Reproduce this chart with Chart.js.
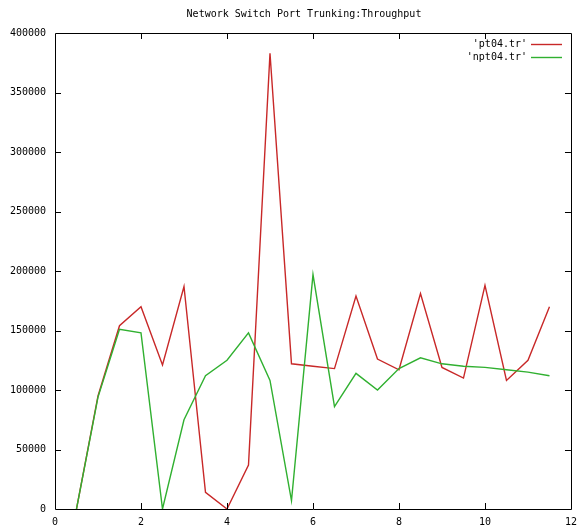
<!DOCTYPE html>
<html>
<head>
<meta charset="utf-8">
<script src="https://cdn.jsdelivr.net/npm/chart.js@4.4.1/dist/chart.umd.min.js"></script>
<style>
html,body{margin:0;padding:0;background:#fff;}
#wrap{width:584px;height:529px;}
</style>
</head>
<body>
<div id="wrap"><canvas id="c" width="584" height="529"></canvas></div>
<script>
const titleText = "Network Switch Port Trunking:Throughput";
const xValues = [0.5, 1, 1.5, 2, 2.5, 3, 3.5, 4, 4.5, 5, 5.5, 6, 6.5, 7, 7.5, 8, 8.5, 9, 9.5, 10, 10.5, 11, 11.5];
const pt04 = [0, 95000, 154000, 170000, 121000, 187000, 14000, 0, 37000, 383000, 122000, 120000, 118000, 179000, 126000, 117000, 181000, 119000, 110000, 188000, 108000, 125000, 170000];
const npt04 = [0, 94000, 151000, 148000, 0, 75000, 112000, 125000, 148000, 108000, 7000, 197000, 86000, 114000, 100000, 118000, 127000, 122000, 120000, 119000, 117000, 115000, 112000];
const seriesLabels = ["'pt04.tr'", "'npt04.tr'"];
const seriesColors = ["#c82828", "#30b030"];
const xMin = 0, xMax = 12, xStep = 2;
const yMin = 0, yMax = 400000, yStep = 50000;

const FONT = "10px 'DejaVu Sans Mono', monospace";

function pts(ys){ return xValues.map((x,i)=>({x:x, y:ys[i]})); }

const framePlugin = {
  id: 'frame',
  afterDatasetsDraw(chart){
    const ctx = chart.ctx, a = chart.chartArea;
    const xs = chart.scales.x, ys = chart.scales.y;
    const TL = 6;
    ctx.save();
    ctx.strokeStyle = '#000';
    ctx.lineWidth = 1;
    ctx.beginPath();
    ctx.rect(Math.round(a.left)+0.5, Math.round(a.top)+0.5, Math.round(a.right-a.left), Math.round(a.bottom-a.top));
    ctx.stroke();
    ctx.beginPath();
    xs.ticks.forEach(t=>{
      const px = Math.round(xs.getPixelForValue(t.value))+0.5;
      if (t.value===xMin || t.value===xMax) return;
      ctx.moveTo(px, a.bottom); ctx.lineTo(px, a.bottom-TL);
      ctx.moveTo(px, a.top); ctx.lineTo(px, a.top+TL);
    });
    ys.ticks.forEach(t=>{
      const py = Math.round(ys.getPixelForValue(t.value))+0.5;
      if (t.value===yMin || t.value===yMax) return;
      ctx.moveTo(a.left, py); ctx.lineTo(a.left+TL, py);
      ctx.moveTo(a.right, py); ctx.lineTo(a.right-TL, py);
    });
    ctx.stroke();
    ctx.restore();
  },
  afterDraw(chart){
    const ctx = chart.ctx, a = chart.chartArea;
    ctx.save();
    ctx.font = FONT;
    ctx.fillStyle = '#000';
    ctx.textBaseline = 'middle';
    ctx.textAlign = 'center';
    ctx.fillText(titleText, 304, 14);
    // legend
    chart.data.datasets.forEach((ds,i)=>{
      const y = 44 + i*13;
      ctx.textAlign = 'right';
      ctx.fillStyle = '#000';
      ctx.fillText(ds.label, 527, y);
      ctx.strokeStyle = ds.borderColor;
      ctx.lineWidth = 1.4;
      ctx.beginPath();
      ctx.moveTo(531, Math.round(y)+0.5);
      ctx.lineTo(562, Math.round(y)+0.5);
      ctx.stroke();
    });
    ctx.restore();
  }
};

new Chart(document.getElementById('c'), {
  type: 'scatter',
  data: {
    datasets: [
      {label: seriesLabels[0], data: pts(pt04), borderColor: seriesColors[0], backgroundColor: seriesColors[0], showLine: true, pointRadius: 0, borderWidth: 1.4, tension: 0, order: 2},
      {label: seriesLabels[1], data: pts(npt04), borderColor: seriesColors[1], backgroundColor: seriesColors[1], showLine: true, pointRadius: 0, borderWidth: 1.4, tension: 0, order: 1}
    ]
  },
  options: {
    responsive: false,
    devicePixelRatio: 1,
    animation: false,
    layout: {padding: {top: 33, right: 10, left: 0, bottom: 0}},
    plugins: {legend: {display: false}, title: {display: false}, tooltip: {enabled: false}},
    scales: {
      x: {
        type: 'linear', min: xMin, max: xMax,
        grid: {display: false, drawTicks: false},
        border: {display: false},
        ticks: {stepSize: xStep, padding: 7, color: '#000', font: {family: "'DejaVu Sans Mono', monospace", size: 10}, maxRotation: 0,
          callback: v => String(v)},
        afterFit: s => { s.height = 20; }
      },
      y: {
        type: 'linear', min: yMin, max: yMax,
        grid: {display: false, drawTicks: false},
        border: {display: false},
        ticks: {stepSize: yStep, padding: 9, color: '#000', font: {family: "'DejaVu Sans Mono', monospace", size: 10},
          callback: v => String(v)},
        afterFit: s => { s.width = 55; }
      }
    }
  },
  plugins: [framePlugin]
});
</script>
</body>
</html>
